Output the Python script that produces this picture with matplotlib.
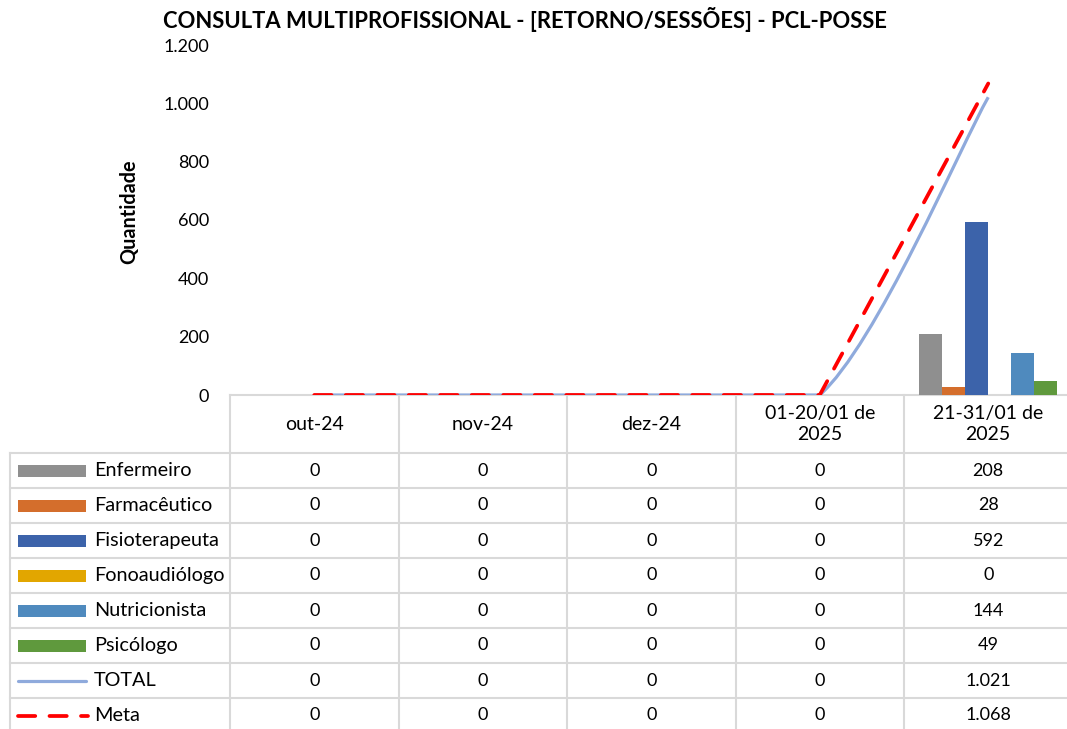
import matplotlib.pyplot as plt
from matplotlib.path import Path
from matplotlib.patches import PathPatch, Rectangle
import matplotlib.transforms as mtransforms

plt.rcParams['font.family'] = ['Lato', 'DejaVu Sans']

categories = ["out-24", "nov-24", "dez-24", "01-20/01 de\n2025", "21-31/01 de\n2025"]
series_names = ["Enfermeiro", "Farmacêutico", "Fisioterapeuta", "Fonoaudiólogo",
                "Nutricionista", "Psicólogo"]
enfermeiro = [0, 0, 0, 0, 208]
farmaceutico = [0, 0, 0, 0, 28]
fisioterapeuta = [0, 0, 0, 0, 592]
fonoaudiologo = [0, 0, 0, 0, 0]
nutricionista = [0, 0, 0, 0, 144]
psicologo = [0, 0, 0, 0, 49]
total = [0, 0, 0, 0, 1021]
meta = [0, 0, 0, 0, 1068]

bar_series = [enfermeiro, farmaceutico, fisioterapeuta, fonoaudiologo,
              nutricionista, psicologo]
bar_colors = ["#8f8f8f", "#d46e2c", "#3c63aa", "#e2a600", "#4f8abe", "#5f993d"]
total_color = "#8faadc"
meta_color = "#ff0000"
grid_color = "#d9d9d9"
FS_NUM = 13
FS_TXT = 14.3
META_DASH = (0, (4.6, 3.8))


def fmt(v):
    return f"{v:,}".replace(",", ".")


def smooth_path(xs, ys):
    # Excel-like smoothed line as a cubic bezier path
    pts = list(zip(xs, ys))
    n = len(pts)
    verts = [pts[0]]
    codes = [Path.MOVETO]
    for i in range(n - 1):
        p0 = pts[max(i - 1, 0)]
        p1 = pts[i]
        p2 = pts[i + 1]
        p3 = pts[min(i + 2, n - 1)]
        lo, hi = min(p1[1], p2[1]), max(p1[1], p2[1])
        c1 = (p1[0] + (p2[0] - p0[0]) / 6, min(max(p1[1] + (p2[1] - p0[1]) / 6, lo), hi))
        c2 = (p2[0] - (p3[0] - p1[0]) / 6, min(max(p2[1] - (p3[1] - p1[1]) / 6, lo), hi))
        verts += [c1, c2, p2]
        codes += [Path.CURVE4] * 3
    return Path(verts, codes)


W, H = 1067, 729
fig = plt.figure(figsize=(W / 100, H / 100), dpi=100)
ax = fig.add_axes([230 / W, (H - 395) / H, 842.5 / W, 350 / H])

x = list(range(len(categories)))
n = len(bar_series)
bw = 0.1365
for j, (vals, col) in enumerate(zip(bar_series, bar_colors)):
    ax.bar([xi + (j - (n - 1) / 2) * bw for xi in x], vals, width=bw,
           color=col, zorder=2)

ax.add_patch(PathPatch(smooth_path(x, total), fill=False, edgecolor=total_color,
                       lw=2.3, zorder=3, capstyle='butt'))
ax.plot(x, meta, color=meta_color, lw=2.7, linestyle=META_DASH,
        dash_capstyle='round', zorder=4)

ax.set_xlim(-0.5, len(categories) - 0.5)
ax.set_ylim(0, 1200)
ax.set_yticks(range(0, 1201, 200))
ax.set_yticklabels([fmt(v) for v in range(0, 1201, 200)], fontsize=FS_NUM)
ax.tick_params(axis='y', length=0, pad=15)
ax.set_xticks([])
for s in ax.spines.values():
    s.set_visible(False)
ax.set_ylabel("Quantidade", fontsize=FS_TXT, fontweight='bold')
ax.yaxis.set_label_coords(-91 / 842.5, 0.523)

fig.suptitle("CONSULTA MULTIPROFISSIONAL - [RETORNO/SESSÕES] - PCL-POSSE",
             x=525 / W, y=1 - 20 / H, va='center', fontsize=15.8, fontweight='bold')

# data table under the plot
px = 350.0
head_h = 58 / px
row_h = 35 / px
left_col = -220 / 842.5
blend = mtransforms.blended_transform_factory(ax.transData, ax.transAxes)
rows = series_names + ["TOTAL", "Meta"]
row_vals = bar_series + [total, meta]
n_rows = len(rows)
bottom = -head_h - row_h * n_rows

line_kw = dict(color=grid_color, lw=1.5, clip_on=False, zorder=1)
ax.plot([0, 1], [0, 0], transform=ax.transAxes, **line_kw)
for k in range(n_rows + 1):
    yk = -head_h - row_h * k
    ax.plot([left_col, 1], [yk, yk], transform=ax.transAxes, **line_kw)
for b in range(len(categories)):
    ax.plot([b - 0.5, b - 0.5], [0, bottom], transform=blend, **line_kw)
ax.plot([left_col, left_col], [-head_h, bottom], transform=ax.transAxes, **line_kw)

for i, cat in enumerate(categories):
    ax.text(i, -head_h / 2, cat, transform=blend, ha='center', va='center',
            fontsize=14, linespacing=1.3)

sw_x0 = -212 / 842.5
sw_x1 = -144 / 842.5
for k, (name, vals) in enumerate(zip(rows, row_vals)):
    yc = -head_h - row_h * (k + 0.5)
    if k < len(bar_series):
        ax.add_patch(Rectangle((sw_x0, yc - 6 / px), sw_x1 - sw_x0, 12 / px,
                               facecolor=bar_colors[k], transform=ax.transAxes,
                               clip_on=False))
    elif name == "TOTAL":
        ax.plot([sw_x0, sw_x1], [yc, yc], color=total_color, lw=2.3,
                transform=ax.transAxes, clip_on=False, solid_capstyle='round')
    else:
        ax.plot([sw_x0, sw_x1 + 2 / 842.5], [yc, yc], color=meta_color, lw=2.7,
                transform=ax.transAxes, clip_on=False,
                linestyle=META_DASH, dash_capstyle='round')
    ax.text(-136 / 842.5, yc, name, transform=ax.transAxes, ha='left',
            va='center', fontsize=FS_TXT)
    for i, v in enumerate(vals):
        ax.text(i, yc, fmt(v), transform=blend, ha='center', va='center',
                fontsize=FS_NUM)

fig.savefig("out.png", dpi=100)
